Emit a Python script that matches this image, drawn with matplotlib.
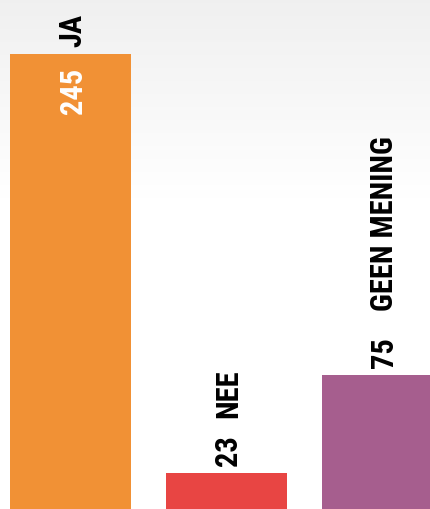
import matplotlib
matplotlib.use("Agg")
import matplotlib.pyplot as plt
import numpy as np

# data
categories = ["JA", "NEE", "GEEN MENING"]
values = [245, 23, 75]
colors = ["#F19135", "#E84543", "#A65E8E"]

plt.rcParams['font.family'] = ['Roboto Condensed', 'DejaVu Sans']

fig = plt.figure(figsize=(4.31, 5.10), dpi=100)

# light grey to white gradient behind the chart (top 40 %)
bg = fig.add_axes([0, 0, 1, 1])
grad = np.concatenate([np.linspace(0.94, 1.0, 200), np.ones(310)])
img = np.repeat(grad[:, None, None], 3, axis=2).repeat(2, axis=1)
bg.imshow(img, aspect="auto", extent=[0, 1, 0, 1], origin="upper")
bg.axis("off")

ax = fig.add_axes([0, 0, 1, 1])
ax.patch.set_alpha(0)
x = np.arange(len(values))
ax.bar(x, values, width=0.776, color=colors)
ax.set_xlim(-0.452, 2.311)
ax.set_ylim(3.9, 274.2)
ax.axis("off")

txt = dict(rotation=90, ha="center", fontsize=22, fontweight="bold",
           textcoords="offset pixels")

# first bar: label above, value inside
ax.annotate(categories[0], (x[0], values[0]), xytext=(2, 8), va="bottom",
            color="black", **txt)
ax.annotate(str(values[0]), (x[0], values[0]), xytext=(2, -13), va="top",
            color="white", **txt)

# other bars: value then label above the bar
gaps = [None, 17, 26]
fig.canvas.draw()
r = fig.canvas.get_renderer()
for i in range(1, len(values)):
    t = ax.annotate(str(values[i]), (x[i], values[i]), xytext=(2, 8),
                    va="bottom", color="black", **txt)
    h = t.get_window_extent(r).height
    ax.annotate(categories[i], (x[i], values[i]), xytext=(2, 8 + h + gaps[i]),
                va="bottom", color="black", **txt)

fig.savefig("out.png", dpi=100)
